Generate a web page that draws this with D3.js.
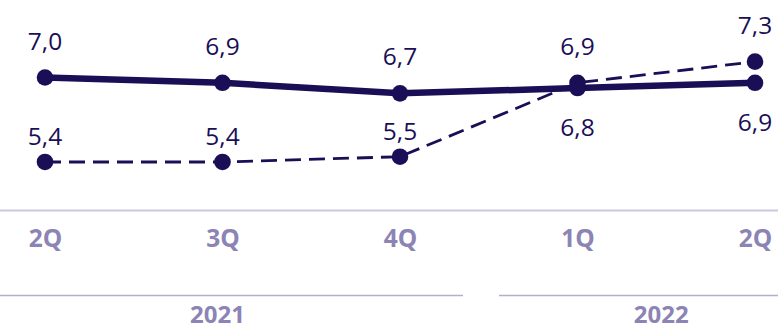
<!DOCTYPE html>
<html>
<head>
<meta charset="utf-8">
<script src="https://cdn.jsdelivr.net/npm/d3@7/dist/d3.min.js"></script>
<style>
  html, body { margin: 0; padding: 0; background: #ffffff; }
  svg { display: block; }
</style>
</head>
<body>
<svg id="chart" width="778" height="329"></svg>
<script>
// Quarters on the x axis and the year they belong to
const quarters = ["2Q-21", "3Q-21", "4Q-21", "1Q-22", "2Q-22"];
const quarterLabels = ["2Q", "3Q", "4Q", "1Q", "2Q"];
const years = ["2021", "2022"];
const yearQuarters = [["2Q-21", "3Q-21", "4Q-21"], ["1Q-22", "2Q-22"]];

// Series values
const solidValues = [7.0, 6.9, 6.7, 6.8, 6.9];
const dashedValues = [5.4, 5.4, 5.5, 6.9, 7.3];

const W = 778, H = 329;
const navy = "#1a0f56";
const axisText = "#8c84b4";
const svg = d3.select("#chart");

const x = d3.scalePoint().domain(quarters).range([45, 755]);
const y = d3.scaleLinear().domain([4.5, 7.5]).range([209.5, 51.1]);

const fmt = v => d3.format(".1f")(v).replace(".", ",");

// Baseline axis
svg.append("line")
  .attr("x1", 0).attr("x2", W)
  .attr("y1", 210.5).attr("y2", 210.5)
  .attr("stroke", "#ccc8df").attr("stroke-width", 2);

// Quarter tick labels via a bottom axis without ticks or domain
const xAxis = d3.axisBottom(x).tickSize(0).tickFormat((d, i) => quarterLabels[i]);
const gx = svg.append("g").attr("transform", "translate(0,228)").call(xAxis);
gx.select(".domain").remove();
gx.selectAll("text")
  .attr("dy", 0).attr("y", 18.5)
  .attr("fill", axisText)
  .style("font-family", "'Open Sans', sans-serif")
  .style("font-weight", 700)
  .style("font-size", "24.5px");

// Year brackets
const yearSpans = [[0, 463], [499, W]];
yearSpans.forEach((s, i) => {
  svg.append("line")
    .attr("x1", s[0]).attr("x2", s[1])
    .attr("y1", 295.5).attr("y2", 295.5)
    .attr("stroke", "#b5afcf").attr("stroke-width", 1.5);
  const qs = yearQuarters[i];
  const cx = i === 0 ? x(qs[1]) - 5 : (x(qs[0]) + x(qs[qs.length - 1])) / 2 - 5;
  svg.append("text")
    .attr("x", cx).attr("y", 323)
    .attr("text-anchor", "middle")
    .attr("fill", axisText)
    .style("font-family", "'Open Sans', sans-serif")
    .style("font-weight", 700)
    .style("font-size", "24px")
    .text(years[i]);
});

const line = d3.line().x((d, i) => x(quarters[i])).y(d => y(d));

// Dashed series
svg.append("path")
  .datum(dashedValues)
  .attr("d", line)
  .attr("fill", "none")
  .attr("stroke", navy)
  .attr("stroke-width", 2.8)
  .attr("stroke-dasharray", "16,8");

// Solid series
svg.append("path")
  .datum(solidValues)
  .attr("d", line)
  .attr("fill", "none")
  .attr("stroke", navy)
  .attr("stroke-width", 6.5)
  .attr("stroke-linejoin", "round");

[dashedValues, solidValues].forEach(vals => {
  svg.selectAll(null)
    .data(vals)
    .enter().append("circle")
    .attr("cx", (d, i) => x(quarters[i]))
    .attr("cy", d => y(d))
    .attr("r", 8.3)
    .attr("fill", navy);
});

// Value labels: vertical offset from each point
const solidLabelDy = [-28, -28, -28, 48, 48];
const dashedLabelDy = [-17, -17, -17, -28, -28];

function labels(vals, dys) {
  svg.selectAll(null)
    .data(vals)
    .enter().append("text")
    .attr("x", (d, i) => x(quarters[i]))
    .attr("y", (d, i) => y(d) + dys[i])
    .attr("text-anchor", "middle")
    .attr("fill", navy)
    .style("font-family", "'Open Sans', sans-serif")
    .style("font-size", "24.5px")
    .text(d => fmt(d));
}
labels(solidValues, solidLabelDy);
labels(dashedValues, dashedLabelDy);
</script>
</body>
</html>
